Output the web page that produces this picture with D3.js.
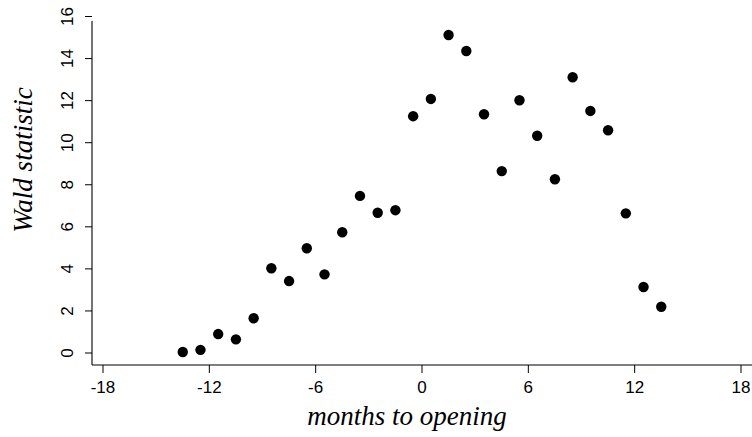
<!DOCTYPE html>
<html>
<head>
<meta charset="utf-8">
<script src="https://cdn.jsdelivr.net/npm/d3@7"></script>
<style>
  html, body { margin: 0; padding: 0; background: #fff; }
  svg { display: block; }
</style>
</head>
<body>
<svg id="chart" width="752" height="437"></svg>
<script>
// Data: months to opening (midpoints) and Wald statistic
const months = [-13.5, -12.5, -11.5, -10.5, -9.5, -8.5, -7.5, -6.5, -5.5, -4.5, -3.5, -2.5, -1.5, -0.5,
                0.5, 1.5, 2.5, 3.5, 4.5, 5.5, 6.5, 7.5, 8.5, 9.5, 10.5, 11.5, 12.5, 13.5];
const wald = [0.05, 0.15, 0.9, 0.65, 1.65, 4.03, 3.42, 4.98, 3.74, 5.74, 7.47, 6.67, 6.79, 11.26,
              12.08, 15.12, 14.36, 11.35, 8.65, 12.02, 10.33, 8.26, 13.11, 11.51, 10.59, 6.64, 3.14, 2.20];
const xTicks = [-18, -12, -6, 0, 6, 12, 18];
const yTicks = [0, 2, 4, 6, 8, 10, 12, 14, 16];
const xTitle = "months to opening";
const yTitle = "Wald statistic";

const svg = d3.select("#chart");
const W = 752, H = 437;

const x = d3.scaleLinear().domain([-18, 18]).range([103, 741]);
const y = d3.scaleLinear().domain([0, 16]).range([353, 16.5]);

const axisX = 92, axisY = 365;

// axis lines
svg.append("line").attr("x1", axisX).attr("x2", W).attr("y1", axisY).attr("y2", axisY)
  .attr("stroke", "#000").attr("stroke-width", 1.1);
svg.append("line").attr("x1", axisX).attr("x2", axisX).attr("y1", 21).attr("y2", axisY)
  .attr("stroke", "#000").attr("stroke-width", 1.1);

// x ticks
const xg = svg.append("g");
xTicks.forEach(t => {
  xg.append("line").attr("x1", x(t)).attr("x2", x(t)).attr("y1", axisY).attr("y2", axisY + 8)
    .attr("stroke", "#000").attr("stroke-width", 1);
  xg.append("text").attr("x", x(t)).attr("y", 393).attr("text-anchor", "middle")
    .attr("font-family", "'Liberation Sans', Arial, sans-serif").attr("font-size", 17)
    .text(t);
});

// y ticks
const yg = svg.append("g");
yTicks.forEach(t => {
  yg.append("line").attr("x1", axisX - 7).attr("x2", axisX).attr("y1", y(t)).attr("y2", y(t))
    .attr("stroke", "#000").attr("stroke-width", 1);
  yg.append("text")
    .attr("transform", `translate(73,${y(t)}) rotate(-90)`)
    .attr("text-anchor", "middle")
    .attr("font-family", "'Liberation Sans', Arial, sans-serif").attr("font-size", 17)
    .text(t);
});

// points
svg.append("g").selectAll("circle").data(months.map((m, i) => [m, wald[i]]))
  .join("circle")
  .attr("cx", d => x(d[0]))
  .attr("cy", d => y(d[1]))
  .attr("r", 5.2)
  .attr("fill", "#000");

// titles
svg.append("text").attr("x", 407).attr("y", 425).attr("text-anchor", "middle")
  .attr("font-family", "'Liberation Serif', 'Times New Roman', serif")
  .attr("font-style", "italic").attr("font-size", 27)
  .text(xTitle);
svg.append("text")
  .attr("transform", `translate(32,160) rotate(-90)`)
  .attr("text-anchor", "middle")
  .attr("font-family", "'Liberation Serif', 'Times New Roman', serif")
  .attr("font-style", "italic").attr("font-size", 27)
  .text(yTitle);
</script>
</body>
</html>
